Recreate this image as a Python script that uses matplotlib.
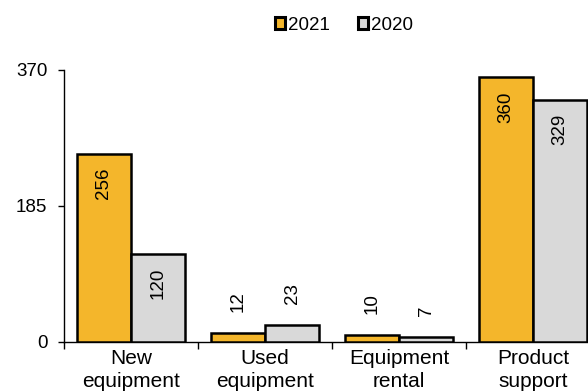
import numpy as np
import matplotlib.pyplot as plt

plt.rcParams['font.family'] = ['Liberation Sans', 'DejaVu Sans']

categories = ["New\nequipment", "Used\nequipment", "Equipment\nrental", "Product\nsupport"]
series_2021 = [256, 12, 10, 360]
series_2020 = [120, 23, 7, 329]
yticks = [0, 185, 370]

gold = "#F4B62B"
grey = "#D9D9D9"


def label_bars(ax, bars, values):
    for b, v in zip(bars, values):
        x = b.get_x() + b.get_width() / 2
        if v > 60:
            ax.annotate(str(v), (x, v), xytext=(0, -10), textcoords="offset points",
                        rotation=90, ha="center", va="top", fontsize=13.5)
        else:
            ax.annotate(str(v), (x, v), xytext=(0, 15), textcoords="offset points",
                        rotation=90, ha="center", va="bottom", fontsize=13.5)


def main():
    fig = plt.figure(figsize=(5.88, 3.92), dpi=100)
    ax = fig.add_axes([64 / 588, 1 - 342 / 392, 536 / 588, 272 / 392])

    x = np.arange(len(categories))
    w = 0.403
    b1 = ax.bar(x - w / 2, series_2021, w, color=gold, edgecolor="black", linewidth=1.8,
                label="2021", zorder=3)
    b2 = ax.bar(x + w / 2, series_2020, w, color=grey, edgecolor="black", linewidth=1.8,
                label="2020", zorder=3)
    label_bars(ax, b1, series_2021)
    label_bars(ax, b2, series_2020)

    ax.set_xlim(-0.5, len(categories) - 0.5)
    ax.set_ylim(0, 370)
    ax.set_yticks(yticks)
    ax.set_yticklabels([str(t) for t in yticks], fontsize=13.5)
    ax.tick_params(axis="y", length=4, width=1, pad=8)

    ax.set_xticks(x)
    ax.set_xticklabels(categories, fontsize=15, linespacing=1.3)
    ax.tick_params(axis="x", length=0, pad=5)
    ax.set_xticks(np.arange(len(categories) + 1) - 0.5, minor=True)
    ax.tick_params(axis="x", which="minor", length=5, width=1)

    for s in ["top", "right"]:
        ax.spines[s].set_visible(False)
    ax.spines["left"].set_linewidth(1)
    ax.spines["bottom"].set_linewidth(1)

    leg = fig.legend(handles=[b1, b2], labels=["2021", "2020"], loc="center",
                     bbox_to_anchor=(344 / 588, 1 - 25 / 392), ncol=2, frameon=False,
                     fontsize=13.5, handlelength=0.55, handleheight=0.55, handletextpad=0.15,
                     columnspacing=1.5)
    for h in leg.legend_handles:
        h.set_linewidth(2.2)

    fig.savefig("out.png", dpi=100)


if __name__ == "__main__":
    main()
